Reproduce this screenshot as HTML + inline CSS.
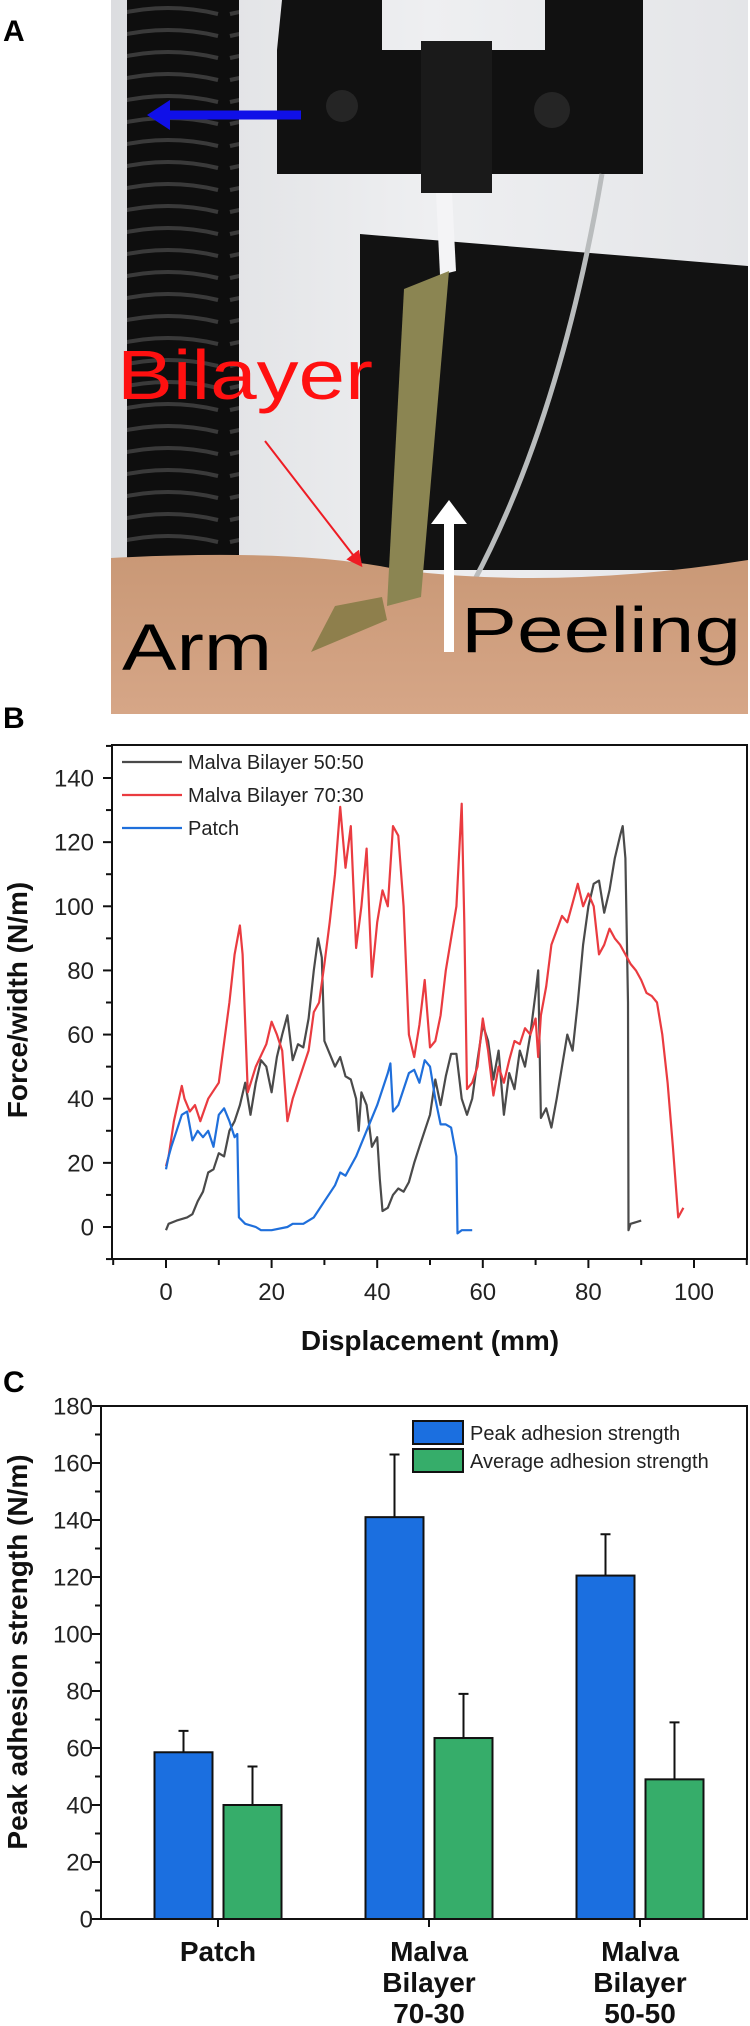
<!DOCTYPE html>
<html><head><meta charset="utf-8"><style>
html,body{margin:0;padding:0;background:#fff;}
svg{display:block;font-family:"Liberation Sans",Arial,sans-serif;}
</style></head><body>
<svg id="fig" width="750" height="2026" viewBox="0 0 750 2026" xmlns="http://www.w3.org/2000/svg">
<defs>
<linearGradient id="wall" x1="0" y1="0" x2="1" y2="0"><stop offset="0" stop-color="#dcdde0"/><stop offset="0.5" stop-color="#eeeff1"/><stop offset="1" stop-color="#e4e5e8"/></linearGradient>
<linearGradient id="skin" x1="0" y1="0" x2="0" y2="1"><stop offset="0" stop-color="#c99876"/><stop offset="1" stop-color="#d6a687"/></linearGradient>
<pattern id="coil" width="112" height="22" patternUnits="userSpaceOnUse"><rect width="112" height="22" fill="#0e0e0e"/><path d="M6 14 Q56 2 106 14" stroke="#3a3a3a" stroke-width="4" fill="none"/></pattern>
<marker id="rh" markerWidth="8" markerHeight="8" refX="6" refY="4" orient="auto"><path d="M0 0 L8 4 L0 8 Z" fill="#ee1c24"/></marker>
</defs>

<!-- Panel A photo -->
<g>
<rect x="111" y="0" width="637" height="714" fill="url(#wall)"/>
<polygon points="360,234 748,266 748,570 360,570" fill="#121212"/>
<path d="M282 0 L382 0 L382 50 L545 50 L545 0 L643 0 L643 174 L277 174 L277 50 Z" fill="#111"/>
<circle cx="342" cy="106" r="16" fill="#252525"/><circle cx="552" cy="110" r="18" fill="#252525"/>
<rect x="421" y="41" width="71" height="152" fill="#1a1a1a"/>
<rect x="127" y="0" width="112" height="565" fill="url(#coil)"/>
<path d="M602 174 Q560 420 473 583" stroke="#b9bcbd" stroke-width="5" fill="none"/>
<path d="M111 558 Q300 548 400 570 Q560 590 748 560 L748 714 L111 714 Z" fill="url(#skin)"/>
<polygon points="436,193 452,193 456,271 440,275" fill="#f4f4f6"/>
<polygon points="404,289 449,271 421,597 387,606" fill="#8b8552"/>
<polygon points="311,652 335,606 382,597 387,620" fill="#8e7f4c"/>
<g><line x1="301" y1="115" x2="165" y2="115" stroke="#1010e8" stroke-width="9"/><polygon points="147,115 170,100 170,130" fill="#1010e8"/></g>
<g><line x1="449" y1="652" x2="449" y2="520" stroke="#fff" stroke-width="10"/><polygon points="449,500 431,524 467,524" fill="#fff"/></g>
<line x1="265" y1="441" x2="360" y2="564" stroke="#ee1c24" stroke-width="2" marker-end="url(#rh)"/>
<text x="117" y="399" font-size="70" fill="#ff1010" textLength="256" lengthAdjust="spacingAndGlyphs">Bilayer</text>
<text x="122" y="670" font-size="66" fill="#000" textLength="150" lengthAdjust="spacingAndGlyphs">Arm</text>
<text x="461" y="652" font-size="64" fill="#000" textLength="280" lengthAdjust="spacingAndGlyphs">Peeling</text>
</g>
<text x="3" y="41" font-size="30" font-weight="bold">A</text>
<text x="3" y="728" font-size="30" font-weight="bold">B</text>
<text x="3" y="1392" font-size="30" font-weight="bold">C</text>

<g id="chartB"></g>
<g id="chartC"></g>
</svg>
<script>
// ---------- Chart B data ----------
const redX=[0,0.5,1.5,3,3.5,4.5,5.5,6.5,8,10,12,13,14,14.5,15.5,17,19,20,21,22,23,24,26,27,28,29,30,31,32,33,34,35,36,37,38,39,40,41,42,43,44,45,46,47,48,49,50,51,52,53,55,56,56.5,57,58,59,60,61,62,63,64,65,66,67,68,69,70,70.5,71,72,73,75,76,77,78,79,80,81,82,83,84,85,86,87,88,89,90,91,92,93,94,95,96,97,98];
const redY=[19,22,33,44,40,36,38,33,40,45,70,85,94,85,42,50,57,64,60,55,33,40,50,55,67,70,82,95,110,131,112,125,87,100,118,78,95,105,100,125,122,100,60,53,63,77,56,58,66,80,100,132,95,43,45,50,65,55,41,50,45,52,58,57,62,60,65,53,66,75,88,97,95,101,107,100,104,100,85,88,93,90,88,85,82,80,77,73,72,70,60,45,25,3,6];
const blackX=[0,0.5,2,4,5,6,7,8,9,10,11,12,13,14,15,16,17,18,19,20,21,22,23,24,25,26,27,28,28.8,29.5,30,31,32,33,34,35,36,36.5,37,38,39,40,40.5,41,42,43,44,45,46,47,48,49,50,51,52,53,54,55,56,57,58,59,60,61,62,63,64,65,66,67,68,69,70,70.5,71,72,73,74,75,76,77,78,79,80,81,82,83,84,85,86,86.5,87,87.5,87.6,88,90];
const blackY=[-1,1,2,3,4,8,11,17,18,23,22,30,33,38,45,35,45,52,50,42,53,60,66,52,57,56,65,80,90,84,58,54,50,53,47,46,40,30,42,38,25,28,15,5,6,10,12,11,14,20,25,30,35,46,38,47,54,54,40,35,40,52,63,58,46,55,35,48,43,55,50,60,73,80,34,37,31,40,50,60,55,70,88,100,107,108,98,105,115,122,125,115,70,-1,1,2];
const blueX=[0,0.5,1,2,3,4,5,6,7,8,9,10,11,12,13,13.5,13.8,15,17,18,20,23,24,26,28,30,32,33,34,36,38,40,42,42.5,43,44,45,46,47,48,49,50,51,52,53,54,55,55.2,56,58];
const blueY=[18,22,25,30,35,36,27,30,28,30,25,35,37,33,28,29,3,1,0,-1,-1,0,1,1,3,8,13,17,16,22,30,38,48,51,36,38,43,48,49,45,52,50,40,32,32,31,22,-2,-1,-1];
const seriesNames=["Malva Bilayer 50:50","Malva Bilayer 70:30","Patch"];
const xTicksB=[0,20,40,60,80,100];
const yTicksB=[0,20,40,60,80,100,120,140];

// ---------- Chart C data ----------
const categories=[["Patch"],["Malva","Bilayer","70-30"],["Malva","Bilayer","50-50"]];
const peakVals=[58.5,141,120.5];
const peakErr=[7.5,22,14.5];
const avgVals=[40,63.5,49];
const avgErr=[13.5,15.5,20];
const yTicksC=[0,20,40,60,80,100,120,140,160,180];
const legendC=["Peak adhesion strength","Average adhesion strength"];

const NS="http://www.w3.org/2000/svg";
function mk(parent,tag,attrs,text){const e=document.createElementNS(NS,tag);for(const k in attrs)e.setAttribute(k,attrs[k]);if(text!==undefined)e.textContent=text;parent.appendChild(e);return e;}

// ----- Chart B -----
const gB=document.getElementById('chartB');
const bL=112,bR=747,bT=745,bB=1259;
const xB=v=>166+(v-0)*(694-166)/100;
const yB=v=>1227-(v)*(1227-778)/140;
const clipB=mk(gB,'clipPath',{id:'clipB'});mk(clipB,'rect',{x:bL,y:bT,width:bR-bL,height:bB-bT});
function drawLine(xs,ys,color,name){
  let d=xs.map((x,i)=>(i?'L':'M')+xB(x).toFixed(1)+' '+yB(ys[i]).toFixed(1)).join(' ');
  const p=mk(gB,'path',{d:d,fill:'none',stroke:color,'stroke-width':2.2,'stroke-linejoin':'round','clip-path':'url(#clipB)'});
  
  
}
drawLine(blackX,blackY,'#4a4a4a','series-bilayer-50-50');
drawLine(redX,redY,'#ea3b40','series-bilayer-70-30');
drawLine(blueX,blueY,'#1f6fdb','series-patch');
const frameB=mk(gB,'rect',{x:bL,y:bT,width:bR-bL,height:bB-bT,fill:'none',stroke:'#111','stroke-width':2});


for(let v=-10;v<=110;v+=10){
  const maj=v%20===0;
  mk(gB,'line',{x1:xB(v),x2:xB(v),y1:bB,y2:bB+(maj?9:6),stroke:'#111','stroke-width':2});
}
xTicksB.forEach(v=>{
  const t=mk(gB,'text',{x:xB(v),y:1300,'font-size':24,'text-anchor':'middle',fill:'#222'},String(v));
  
  
});
for(let v=-10;v<=150;v+=10){
  const maj=v%20===0;
  mk(gB,'line',{x1:bL,x2:bL-(maj?9:6),y1:yB(v),y2:yB(v),stroke:'#111','stroke-width':2});
}
yTicksB.forEach(v=>{
  const t=mk(gB,'text',{x:94,y:yB(v)+8.5,'font-size':24,'text-anchor':'end',fill:'#222'},String(v));
  
  
});
const xtB=mk(gB,'text',{x:430,y:1350,'font-size':28,'font-weight':'bold','text-anchor':'middle',fill:'#111'},'Displacement (mm)');


const ytB=mk(gB,'text',{x:0,y:0,'font-size':28,'font-weight':'bold','text-anchor':'middle',fill:'#111',transform:'translate(27,1000) rotate(-90)'},'Force/width (N/m)');


const legColors=['#4a4a4a','#ea3b40','#1f6fdb'];
seriesNames.forEach((n,i)=>{
  const y=762+i*33;
  const g=mk(gB,'g',{});
  
  
  mk(g,'line',{x1:122,x2:182,y1:y,y2:y,stroke:legColors[i],'stroke-width':2.2});
  mk(g,'text',{x:188,y:y+7,'font-size':20,fill:'#222'},n);
});

// ----- Chart C -----
const gC=document.getElementById('chartC');
const cL=101,cR=747,cT=1406,cB=1919;
const yC=v=>cB-v*(cB-cT)/180;
const cx=i=>218+211*i;
const bw=58;
const frameC=mk(gC,'rect',{x:cL,y:cT,width:cR-cL,height:cB-cT,fill:'none',stroke:'#111','stroke-width':2});


function bar(i,val,err,off,color,name){
  const x=cx(i)+off-bw/2;
  const eb=mk(gC,'path',{d:`M${cx(i)+off} ${yC(val)} V${yC(val+err)} M${cx(i)+off-5} ${yC(val+err)} H${cx(i)+off+5}`,stroke:'#111','stroke-width':2,fill:'none'});
  
  
  const r=mk(gC,'rect',{x:x,y:yC(val),width:bw,height:yC(0)-yC(val),fill:color,stroke:'#111','stroke-width':2});
  
  
}
categories.forEach((c,i)=>{
  bar(i,peakVals[i],peakErr[i],-34.5,'#1b6fe0','bar-peak');
  bar(i,avgVals[i],avgErr[i],34.5,'#36ad6a','bar-average');
  mk(gC,'line',{x1:cx(i),x2:cx(i),y1:cB,y2:cB+8,stroke:'#111','stroke-width':2});
  c.forEach((ln,k)=>{
    const t=mk(gC,'text',{x:cx(i),y:1961+k*31,'font-size':28,'font-weight':'bold','text-anchor':'middle',fill:'#111'},ln);
    
    
  });
});
for(let v=0;v<=180;v+=10){
  const maj=v%20===0;
  mk(gC,'line',{x1:cL,x2:cL-(maj?9:6),y1:yC(v),y2:yC(v),stroke:'#111','stroke-width':2});
}
yTicksC.forEach(v=>{
  const t=mk(gC,'text',{x:93,y:yC(v)+8.5,'font-size':24,'text-anchor':'end',fill:'#222'},String(v));
  
  
});
const ytC=mk(gC,'text',{x:0,y:0,'font-size':28,'font-weight':'bold','text-anchor':'middle',fill:'#111',transform:'translate(27,1652) rotate(-90)'},'Peak adhesion strength (N/m)');


const legCC=['#1b6fe0','#36ad6a'];
legendC.forEach((n,i)=>{
  const y=1421+i*28;
  const g=mk(gC,'g',{});
  
  
  mk(g,'rect',{x:413,y:y,width:50,height:23,fill:legCC[i],stroke:'#111','stroke-width':2});
  mk(g,'text',{x:470,y:y+19,'font-size':20,fill:'#222'},n);
});
</script>
</body></html>
